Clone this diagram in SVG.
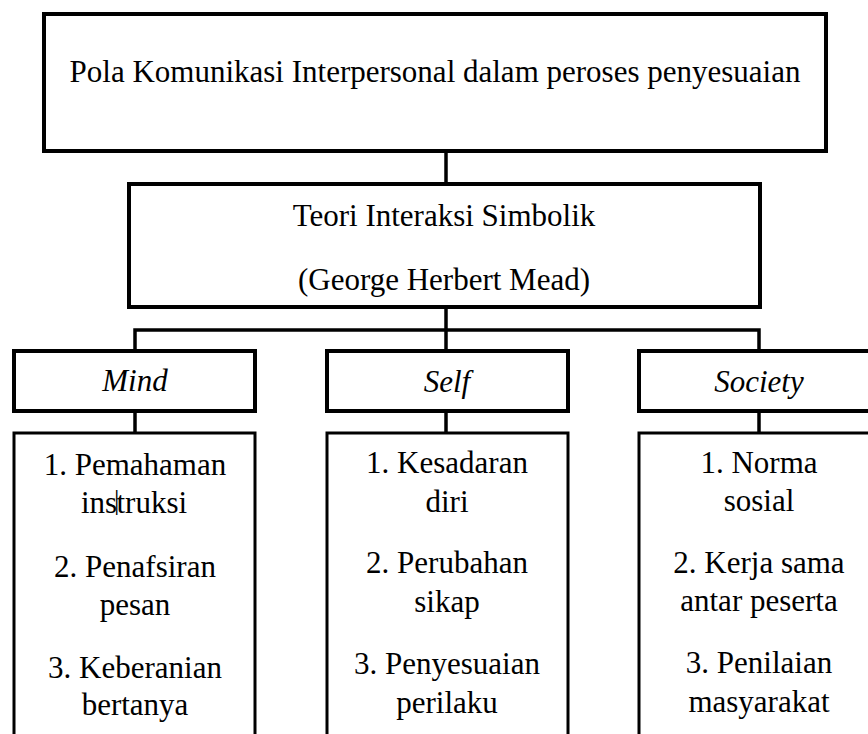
<svg xmlns="http://www.w3.org/2000/svg" width="868" height="734" viewBox="0 0 868 734">
<style>
.box{fill:#fff;stroke:#000;stroke-width:4}
.list{fill:#fff;stroke:#000;stroke-width:3}
.con{fill:none;stroke:#000;stroke-width:3.5}
text{font-family:"Liberation Serif","Times New Roman",serif;font-size:31px;fill:#000;text-anchor:middle}
.it{font-style:italic}
</style>
<rect width="868" height="734" fill="#fff"/>
<g id="connectors">
<line class="con" x1="446" y1="151" x2="446" y2="184"/>
<line class="con" x1="446" y1="307" x2="446" y2="351"/>
<polyline class="con" points="135,351 135,330 759,330 759,351"/>
<line class="con" x1="135" y1="411" x2="135" y2="433"/>
<line class="con" x1="446" y1="411" x2="446" y2="433"/>
<line class="con" x1="759" y1="411" x2="759" y2="433"/>
</g>
<g id="root">
<rect class="box" x="44" y="14" width="782" height="137"/>
<text x="435" y="82">Pola Komunikasi Interpersonal dalam peroses penyesuaian</text>
</g>
<g id="theory">
<rect class="box" x="129" y="184" width="631" height="123"/>
<text x="444" y="226">Teori Interaksi Simbolik</text>
<text x="444" y="290">(George Herbert Mead)</text>
</g>
<g id="mind">
<rect class="box" x="14" y="351" width="241" height="60"/>
<text class="it" x="135" y="391">Mind</text>
</g>
<g id="self">
<rect class="box" x="327" y="351" width="241" height="60"/>
<text class="it" x="447" y="392">Self</text>
</g>
<g id="society">
<rect class="box" x="639" y="351" width="241" height="60"/>
<text class="it" x="759" y="392">Society</text>
</g>
<g id="mind-list">
<rect class="list" x="14" y="433" width="241" height="320"/>
<text x="135" y="475">1. Pemahaman</text>
<text x="134" y="513">ins<tspan dx="-3" dy="-4" font-size="27">|</tspan><tspan dx="-3" dy="4">truksi</tspan></text>
<text x="135" y="577">2. Penafsiran</text>
<text x="135" y="615">pesan</text>
<text x="135" y="678">3. Keberanian</text>
<text x="135" y="715">bertanya</text>
</g>
<g id="self-list">
<rect class="list" x="327" y="433" width="241" height="320"/>
<text x="447" y="473">1. Kesadaran</text>
<text x="447" y="512">diri</text>
<text x="447" y="573">2. Perubahan</text>
<text x="447" y="612">sikap</text>
<text x="447" y="674">3. Penyesuaian</text>
<text x="447" y="713">perilaku</text>
</g>
<g id="society-list">
<rect class="list" x="639" y="433" width="241" height="320"/>
<text x="759" y="473">1. Norma</text>
<text x="759" y="511">sosial</text>
<text x="759" y="573">2. Kerja sama</text>
<text x="759" y="611">antar peserta</text>
<text x="759" y="673">3. Penilaian</text>
<text x="759" y="712">masyarakat</text>
</g>
</svg>
